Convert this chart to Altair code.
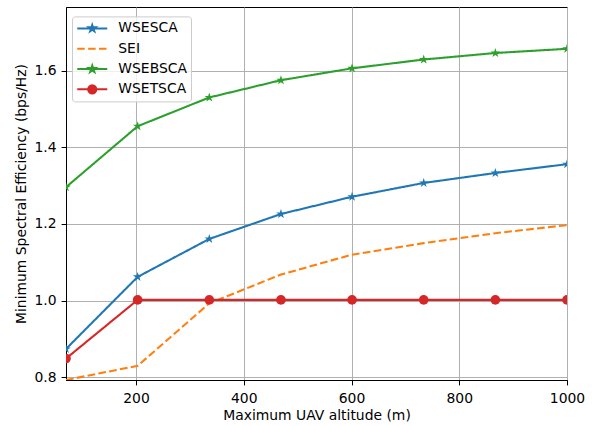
import altair as alt
import pandas as pd

# ---- data ----
altitude = [70, 203, 336, 469, 601, 734, 867, 1000]
wsesca = [0.874, 1.062, 1.161, 1.226, 1.271, 1.307, 1.333, 1.356]
sei = [0.793, 0.830, 0.993, 1.068, 1.120, 1.150, 1.176, 1.197]
wsebsca = [1.296, 1.455, 1.530, 1.575, 1.606, 1.629, 1.646, 1.657]
wsetsca = [0.849, 1.002, 1.002, 1.002, 1.002, 1.002, 1.002, 1.002]

series_names = ["WSESCA", "SEI", "WSEBSCA", "WSETSCA"]
series_values = [wsesca, sei, wsebsca, wsetsca]
colors = ["#1f77b4", "#ff7f0e", "#2ca02c", "#d62728"]
x_ticks = [200, 400, 600, 800, 1000]
y_ticks = [0.8, 1.0, 1.2, 1.4, 1.6]

rows = []
for name, vals in zip(series_names, series_values):
    for xv, yv in zip(altitude, vals):
        rows.append({"alt": xv, "eff": yv, "series": name})
df = pd.DataFrame(rows)

# ---- marker shapes ----
STAR_PTS = [(0, -1), (0.225, -0.309), (0.951, -0.309), (0.363, 0.118), (0.588, 0.809),
            (0, 0.382), (-0.588, 0.809), (-0.363, 0.118), (-0.951, -0.309), (-0.225, -0.309)]


def star_path(cx=0.0, r=1.0):
    pts = ["%s%.3f,%.3f" % ("M" if i == 0 else "L", cx + r * px, r * py)
           for i, (px, py) in enumerate(STAR_PTS)]
    return "".join(pts) + "Z"


def circle_path(cx, r):
    return ("M%.3f,0A%.3f,%.3f 0 1 0 %.3f,0A%.3f,%.3f 0 1 0 %.3f,0Z"
            % (cx - r, r, r, cx + r, r, r, cx - r))


STAR = star_path()
L0, L1, MC = -0.9, 3.1, 1.1
line_seg = "M%.2f,0L%.2f,0" % (L0, L1)
legend_shapes = [
    line_seg + star_path(MC, 0.46),
    "M-0.9,0L0.1,0M0.55,0L1.55,0M2.0,0L3.0,0",
    line_seg + star_path(MC, 0.46),
    line_seg + circle_path(MC, 0.55),
]

FONT = "DejaVu Sans"
FS = 13.9
xs = alt.X("alt:Q", scale=alt.Scale(domain=[70, 1000], nice=False, zero=False),
           axis=alt.Axis(values=x_ticks, title="Maximum UAV altitude (m)", format="d"))
ys = alt.Y("eff:Q", scale=alt.Scale(domain=[0.793, 1.766], nice=False, zero=False),
           axis=alt.Axis(values=y_ticks, title="Minimum Spectral Efficiency (bps/Hz)",
                         format=".1f"))

# plot-side scales (domain order differs from the legend scales so that the
# disabled plot legends are not merged with the visible one)
plot_order = ["SEI", "WSESCA", "WSEBSCA", "WSETSCA"]
plot_colors = [colors[series_names.index(s)] for s in plot_order]
plot_dash = [[7.7, 3.3] if s == "SEI" else [1, 0] for s in plot_order]
color = alt.Color("series:N", scale=alt.Scale(domain=plot_order, range=plot_colors), legend=None)

base = alt.Chart(df)

lines = base.mark_line(strokeWidth=2.08, clip=True).encode(
    x=xs, y=ys, color=color,
    strokeDash=alt.StrokeDash("series:N", scale=alt.Scale(domain=plot_order, range=plot_dash),
                              legend=None),
    detail="series:N",
)

stars = base.transform_filter(
    alt.FieldOneOfPredicate(field="series", oneOf=["WSESCA", "WSEBSCA"])
).mark_point(shape=STAR, filled=True, size=100, opacity=1, clip=True).encode(
    x=xs, y=ys, color=color)

dots = base.transform_filter(
    alt.FieldEqualPredicate(field="series", equal="WSETSCA")
).mark_circle(size=94, opacity=1, clip=True).encode(x=xs, y=ys, color=color)

leg = alt.Legend(orient="none", legendX=6, legendY=9.4, title=None, symbolSize=225,
                 padding=3.5, rowPadding=4.3, labelOffset=25.8, labelFontSize=FS,
                 labelFont=FONT, labelColor="black",
                 fillColor="rgba(255,255,255,0.8)", strokeColor="#cccccc",
                 cornerRadius=3, symbolStrokeWidth=2.0, symbolOpacity=1)

legend_layer = base.transform_filter(alt.datum.eff < 0).mark_point(
    filled=True, opacity=1).encode(
    x=xs, y=ys,
    fill=alt.Fill("series:N", scale=alt.Scale(domain=series_names, range=colors), legend=leg),
    stroke=alt.Stroke("series:N", scale=alt.Scale(domain=series_names, range=colors), legend=leg),
    shape=alt.Shape("series:N", scale=alt.Scale(domain=series_names, range=legend_shapes), legend=leg),
)

chart = alt.layer(lines, stars, dots, legend_layer).properties(
    width=501, height=373,
    autosize=alt.AutoSizeParams(type="none"),
    padding={"left": 66, "top": 7, "right": 26, "bottom": 46},
).configure_view(
    stroke="black", strokeWidth=1
).configure_axis(
    domainColor="black", domainWidth=1, tickColor="black", tickWidth=1, tickSize=4.9,
    labelFont=FONT, labelFontSize=FS, labelColor="black",
    titleFont=FONT, titleFontSize=FS, titleFontWeight="normal", titleColor="black",
    gridColor="#b0b0b0", gridWidth=1, grid=True, labelFlush=False,
).configure_axisY(labelPadding=5, titlePadding=6).configure_axisX(labelPadding=7, titlePadding=3)

chart.save("out.html", embed_options={"renderer": "svg", "actions": False})
